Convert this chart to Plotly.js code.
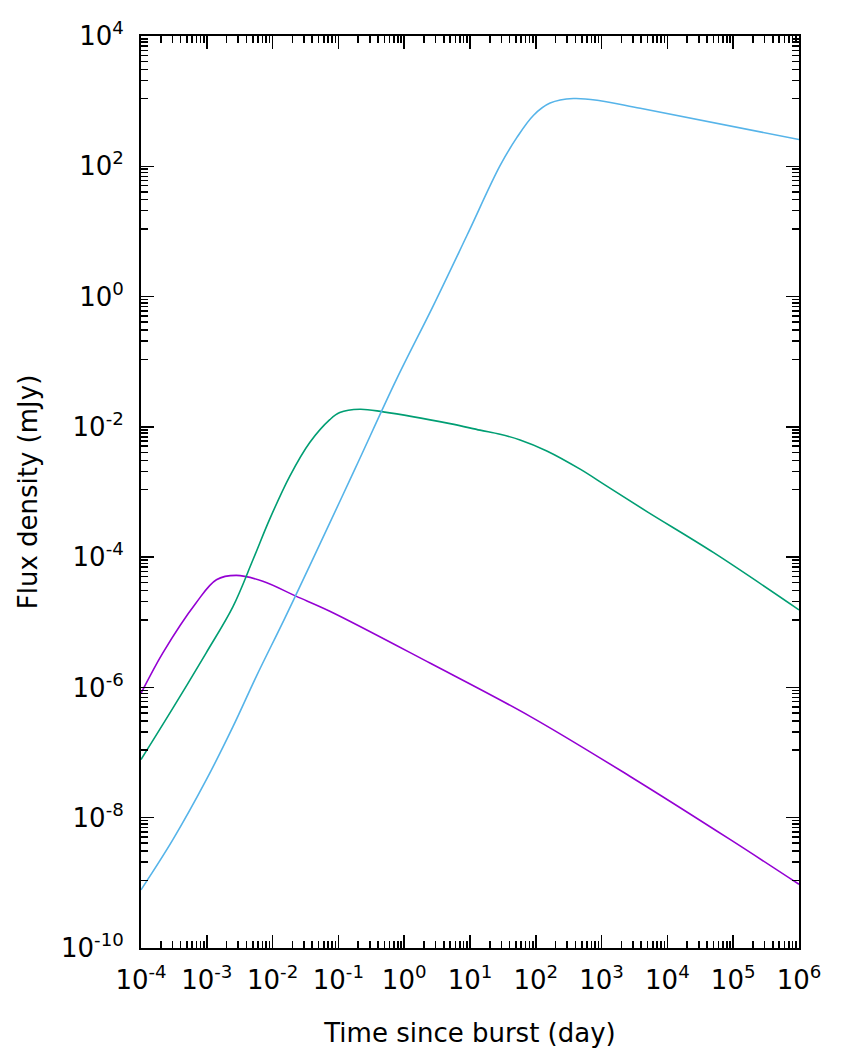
<!DOCTYPE html>
<html>
<head>
<meta charset="utf-8">
<script src="https://cdn.plot.ly/plotly-3.0.1.min.js"></script>
<style>
  body { margin: 0; background: #fff; }
  #plot { width: 847px; height: 1059px; }
</style>
</head>
<body>
<div id="plot"></div>
<script>
// light curves (time in days, flux in mJy)
let purpleT = [1e-4, 2.15e-4, 6.9e-4, 1.40e-3, 2.81e-3, 7.1e-3, 2.30e-2, 7.4e-2, 2.46, 81.8, 2.72e3, 9.06e4, 1e6];
let purpleF = [8.1e-7, 3.4e-6, 2.0e-5, 4.5e-5, 5.25e-5, 4.27e-5, 2.5e-5, 1.48e-5, 2.37e-6, 3.6e-7, 4.3e-8, 4.6e-9, 9.5e-10];

let greenT = [1e-4, 3.05e-4, 9.8e-4, 2.5e-3, 5.03e-3, 9.0e-3, 1.82e-2, 3.67e-2, 7.4e-2, 0.105, 0.212, 0.48, 4.97, 14.2, 28.6, 57.7, 147, 472, 1.2e3, 4.89e3, 5.05e4, 1e6];
let greenF = [7.8e-8, 4.8e-7, 3.4e-6, 1.74e-5, 9.1e-5, 3.8e-4, 1.74e-3, 5.75e-3, 1.29e-2, 1.66e-2, 1.86e-2, 1.7e-2, 1.12e-2, 8.9e-3, 7.7e-3, 6.3e-3, 4.27e-3, 2.24e-3, 1.23e-3, 5.0e-4, 1.17e-4, 1.55e-5];

let blueT = [1e-4, 3.05e-4, 9.8e-4, 2.5e-3, 5.66e-3, 1.53e-2, 4.12e-2, 0.178, 0.766, 2.76, 8.9, 28.6, 51.4, 91.8, 165, 373, 953, 3.87e3, 1e6];
let blueF = [7.8e-10, 4.6e-9, 3.8e-8, 2.5e-7, 1.48e-6, 1.15e-5, 9.5e-5, 2.24e-3, 5.4e-2, 0.72, 8.5, 102, 275, 603, 933, 1096, 1014, 776, 257];

// tick labels
let xExp = [-4, -3, -2, -1, 0, 1, 2, 3, 4, 5, 6];
let yExp = [-10, -8, -6, -4, -2, 0, 2, 4];

function trace(x, y, color) {
    return {
        x: x, y: y,
        type: 'scatter', mode: 'lines',
        line: { color: color, width: 1.6, shape: 'spline', smoothing: 1 },
        showlegend: false, hoverinfo: 'skip'
    };
}

// x minor ticks: 2..9 in every decade
let xMinor = [];
for (let e = -4; e < 6; e++) {
    for (let k = 2; k <= 9; k++) xMinor.push(k * Math.pow(10, e));
}
// y minor ticks: gnuplot style, 9 linear steps between majors a factor 100 apart
let yMinor = [];
for (let i = 0; i < yExp.length - 1; i++) {
    let lo = Math.pow(10, yExp[i]), hi = Math.pow(10, yExp[i + 1]);
    for (let k = 1; k <= 9; k++) yMinor.push(lo + k * (hi - lo) / 10);
}

let font = { family: 'DejaVu Sans, Verdana, sans-serif', size: 26, color: '#000' };

let layout = {
    width: 847, height: 1059,
    margin: { l: 141, r: 48, t: 36, b: 111 },
    paper_bgcolor: '#fff', plot_bgcolor: '#fff',
    font: font,
    xaxis: {
        type: 'log', range: [-4, 6],
        showgrid: false, zeroline: false,
        showline: true, linecolor: '#000', linewidth: 2, mirror: 'allticks',
        ticks: 'inside', ticklen: 13, tickwidth: 1.5, tickcolor: '#000',
        tickmode: 'array',
        tickvals: xExp.map(e => Math.pow(10, e)),
        ticktext: xExp.map(e => '10<sup>' + e + '</sup>'),
        tickfont: font,
        ticklabelstandoff: 8,
        minor: { tickmode: 'array', tickvals: xMinor, ticks: 'inside', ticklen: 7, tickwidth: 1.5, tickcolor: '#000', showgrid: false },
        title: { text: 'Time since burst (day)', font: font, standoff: 30 }
    },
    yaxis: {
        type: 'log', range: [-10, 4],
        showgrid: false, zeroline: false,
        showline: true, linecolor: '#000', linewidth: 2, mirror: 'allticks',
        ticks: 'inside', ticklen: 13, tickwidth: 1.5, tickcolor: '#000',
        tickmode: 'array',
        tickvals: yExp.map(e => Math.pow(10, e)),
        ticktext: yExp.map(e => '10<sup>' + e + '</sup>'),
        tickfont: font,
        ticklabelstandoff: 10,
        minor: { tickmode: 'array', tickvals: yMinor, ticks: 'inside', ticklen: 7, tickwidth: 1.5, tickcolor: '#000', showgrid: false },
        title: { text: 'Flux density (mJy)', font: font, standoff: 16 }
    }
};

Plotly.newPlot('plot', [
    trace(purpleT, purpleF, '#9400d3'),
    trace(greenT, greenF, '#009e73'),
    trace(blueT, blueF, '#56b4e9')
], layout, { staticPlot: true });
</script>
</body>
</html>
